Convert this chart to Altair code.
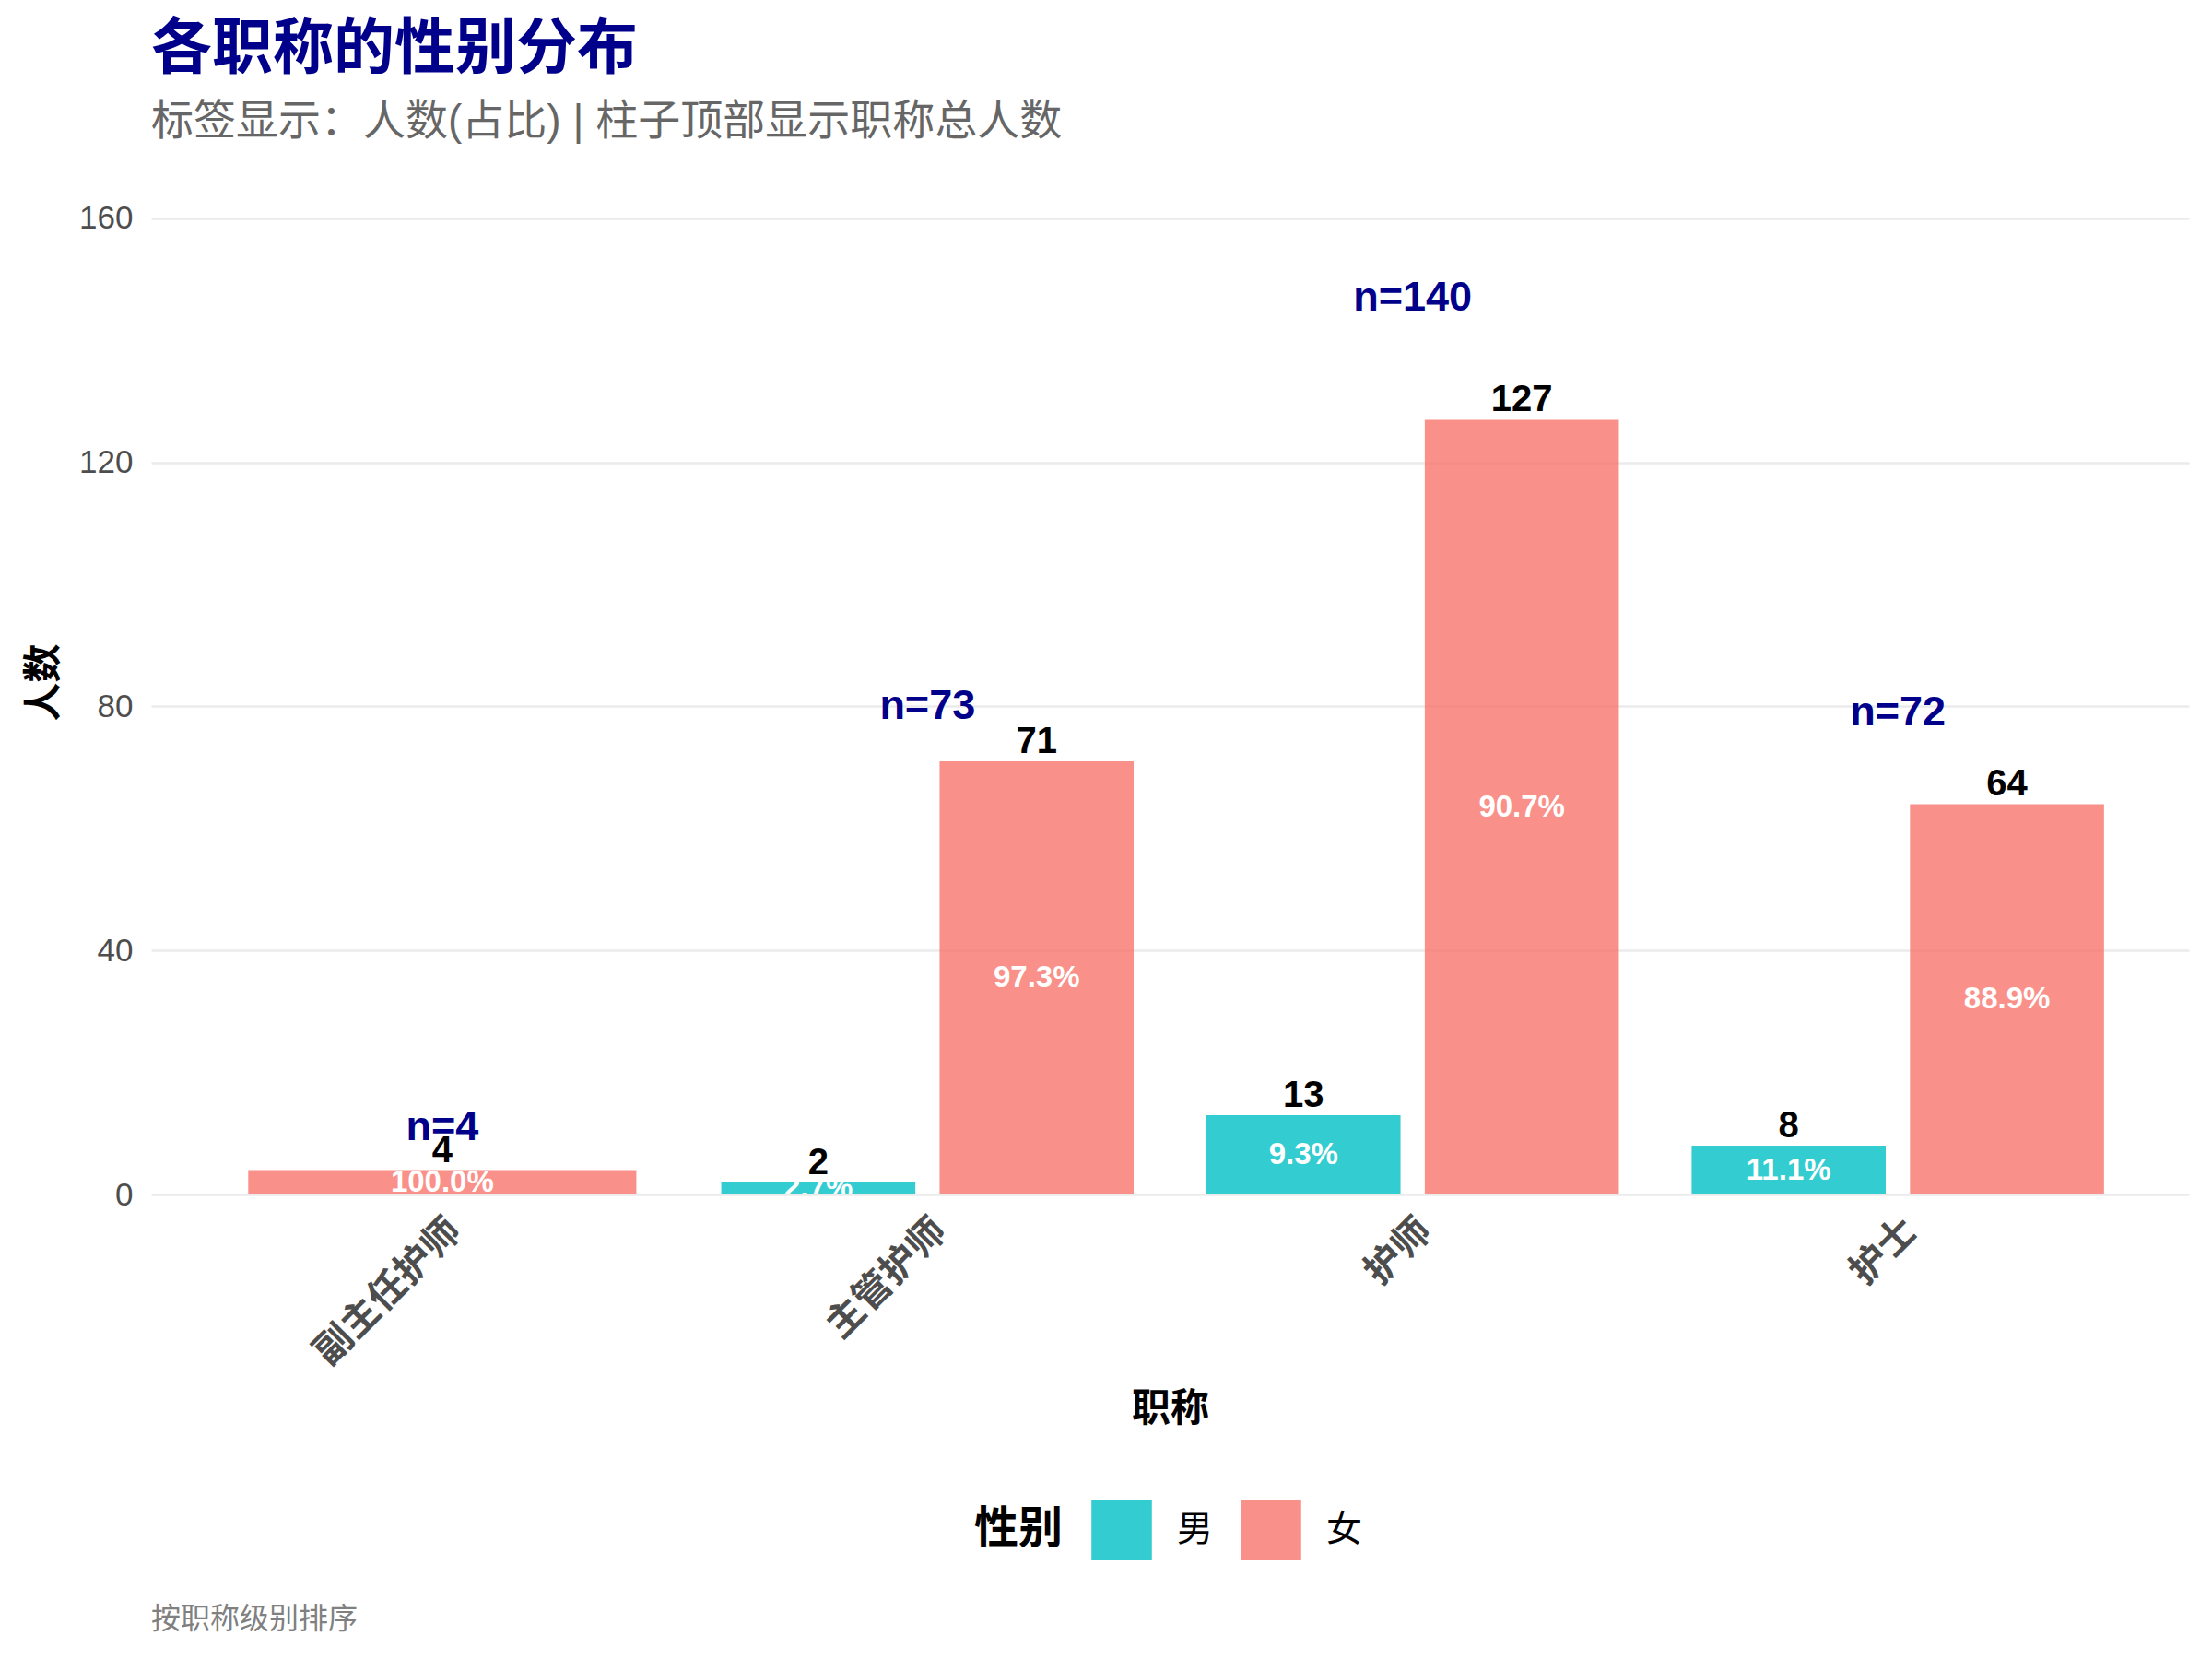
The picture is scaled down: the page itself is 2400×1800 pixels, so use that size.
import altair as alt
import pandas as pd

titles = ["副主任护师", "主管护师", "护师", "护士"]
genders = ["男", "女"]
male_counts = [0, 2, 13, 8]
female_counts = [4, 71, 127, 64]
gender_colors = ["#00BFC4", "#F8766D"]

rows = []
for t, m, f in zip(titles, male_counts, female_counts):
    total = m + f
    present = [(g, c) for g, c in zip(genders, [m, f]) if c > 0]
    for g, c in present:
        rows.append({"title": t, "gender": g, "count": c, "total": total,
                     "ngroups": len(present),
                     "pct": f"{c / total * 100:.1f}%"})
df = pd.DataFrame(rows)
totals = pd.DataFrame({"title": titles,
                       "total": [m + f for m, f in zip(male_counts, female_counts)]})
totals["label"] = ["n=" + str(v) for v in totals["total"]]

FONT = "Liberation Sans, Noto Sans CJK SC, sans-serif"
W, H = 2211, 1112

xscale = alt.Scale(domain=titles, paddingInner=0, paddingOuter=0.1)
yscale = alt.Scale(domain=[0, 168], nice=False)
cscale = alt.Scale(domain=genders, range=gender_colors)
offscale = alt.Scale(domain=genders, paddingInner=1 / 9, paddingOuter=1 / 6)

xenc = alt.X("title:N", scale=xscale, sort=titles, title="职称",
             axis=alt.Axis(labelAngle=-45, labelAlign="right", labelBaseline="top",
                           labelFontWeight="bold", labelFontSize=41, labelColor="#4D4D4D",
                           labelPadding=19, labelLimit=0, ticks=False, domain=False,
                           grid=False, titleFontSize=42, titleFontWeight="bold",
                           titleColor="#000000", titlePadding=20))
yenc = alt.Y("count:Q", scale=yscale, title="人数",
             axis=alt.Axis(values=[0, 40, 80, 120, 160], grid=True, gridColor="#EBEBEB",
                           gridWidth=2.5, domain=False, ticks=False, labelFontSize=35,
                           labelColor="#4D4D4D", labelPadding=20, titleFontSize=42,
                           titleFontWeight="bold", titleColor="#000000", titlePadding=16))

base = alt.Chart(df)
multi = base.transform_filter("datum.ngroups == 2")
single = base.transform_filter("datum.ngroups == 1")

legend = alt.Legend(orient="none", legendX=893, legendY=1443, direction="horizontal",
                    titleOrient="left", titleFontSize=48, titleFontWeight="bold",
                    titleColor="#000000", titlePadding=30, titleBaseline="middle",
                    labelFontSize=39, labelColor="#000000", labelOffset=27,
                    symbolType="square", symbolSize=4300, symbolStrokeWidth=0,
                    symbolOpacity=0.8, columnPadding=29)

bars_multi = multi.mark_bar(opacity=0.8).encode(
    x=xenc, xOffset=alt.XOffset("gender:N", scale=offscale, sort=genders), y=yenc,
    color=alt.Color("gender:N", scale=cscale, sort=genders, title="性别", legend=legend))
bars_single = single.mark_bar(opacity=0.8, width=alt.RelativeBandSize(0.8)).encode(
    x=alt.X("title:N", scale=xscale, sort=titles), y=alt.Y("count:Q", scale=yscale),
    color=alt.Color("gender:N", scale=cscale, sort=genders, legend=None))

cnt_style = dict(fontSize=40, fontWeight="bold", color="#000000", baseline="alphabetic",
                 dy=-9, font=FONT, clip=True)
pct_style = dict(fontSize=33, fontWeight="bold", color="#FFFFFF", baseline="middle",
                 font=FONT, clip=True)

cnt_multi = multi.mark_text(**cnt_style).encode(
    x=alt.X("title:N", scale=xscale, sort=titles),
    xOffset=alt.XOffset("gender:N", scale=offscale, sort=genders),
    y=alt.Y("count:Q", scale=yscale), text="count:Q")
cnt_single = single.mark_text(**cnt_style).encode(
    x=alt.X("title:N", scale=xscale, sort=titles),
    y=alt.Y("count:Q", scale=yscale), text="count:Q")
pct_multi = multi.transform_calculate(mid="datum.count / 2").mark_text(**pct_style).encode(
    x=alt.X("title:N", scale=xscale, sort=titles),
    xOffset=alt.XOffset("gender:N", scale=offscale, sort=genders),
    y=alt.Y("mid:Q", scale=yscale), text="pct:N")
pct_single = single.transform_calculate(mid="datum.count / 2").mark_text(**pct_style).encode(
    x=alt.X("title:N", scale=xscale, sort=titles),
    y=alt.Y("mid:Q", scale=yscale), text="pct:N")

nlab = alt.Chart(totals).transform_calculate(ypos="datum.total + 7").mark_text(
    fontSize=45, fontWeight="bold", color="#00008B", baseline="middle", font=FONT).encode(
    x=alt.X("title:N", scale=xscale, sort=titles),
    y=alt.Y("ypos:Q", scale=yscale), text="label:N")

caption = alt.Chart(pd.DataFrame({"t": ["按职称级别排序"]})).mark_text(
    fontSize=32, color="#808080", align="left", baseline="middle", font=FONT).encode(
    x=alt.value(0), y=alt.value(1757 - 184), text="t:N")

chart = alt.layer(bars_multi, bars_single, pct_multi, pct_single, cnt_multi, cnt_single,
                  nlab, caption).properties(
    width=W, height=H,
    autosize=alt.AutoSizeParams(type="none"),
    padding={"left": 164, "top": 184, "right": 25, "bottom": 504},
    title=alt.Title("各职称的性别分布", subtitle="标签显示：人数(占比) | 柱子顶部显示职称总人数",
                    anchor="start", frame="group", orient="top", fontSize=66,
                    fontWeight="bold", color="#00008B", subtitleFontSize=46,
                    subtitleColor="#666666", subtitlePadding=22, offset=28,
                    font=FONT, subtitleFont=FONT)
).configure(font=FONT).configure_view(strokeWidth=0, stroke="transparent").configure_axis(
    labelFont=FONT, titleFont=FONT).configure_legend(labelFont=FONT, titleFont=FONT)

chart.save("out.html", embed_options={"renderer": "svg", "actions": False})
